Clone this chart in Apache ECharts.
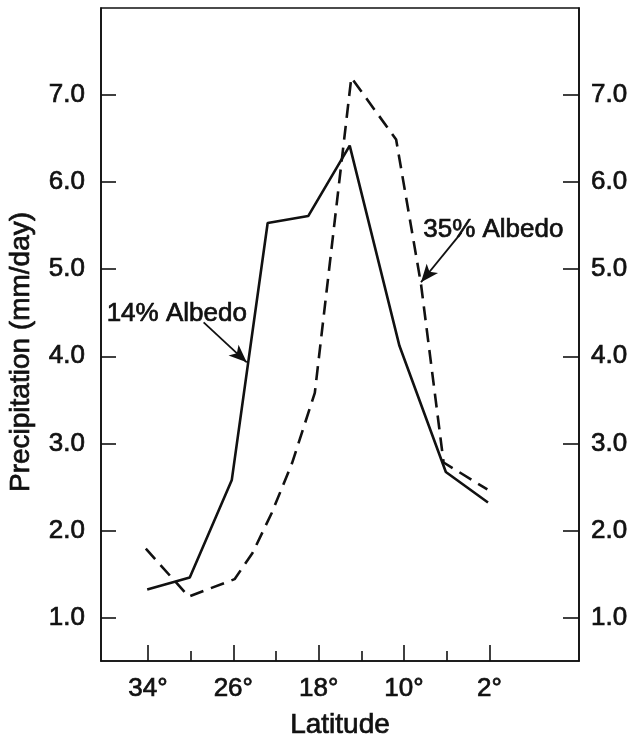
<!DOCTYPE html>
<html><head><meta charset="utf-8">
<script src="https://cdn.jsdelivr.net/npm/echarts@6/dist/echarts.min.js"></script>
<style>html,body{margin:0;padding:0;background:#fff}#c{width:634px;height:737px}</style>
</head><body><div id="c"></div>
<script>
// ---- data ----
const latitudes14 = [34.07, 30.08, 26.14, 22.78, 18.98, 15.09, 10.43, 6.08, 2.13];
const precip14    = [1.32, 1.46, 2.58, 5.53, 5.61, 6.42, 4.12, 2.67, 2.32];
const latitudes35 = [34.2, 30.18, 25.88, 24.2, 22.4, 20.5, 18.36, 14.94, 10.74, 8.41, 6.29, 2.19];
const precip35    = [1.79, 1.24, 1.44, 1.74, 2.20, 2.77, 3.58, 7.20, 6.49, 4.83, 2.78, 2.47];
const majorLatTicks = [34, 26, 18, 10, 2];
const minorLatTicks = [30, 22, 14, 6];
const precipTicks = [1, 2, 3, 4, 5, 6, 7];
const seriesNames = ['14% Albedo', '35% Albedo'];
const xTitle = 'Latitude';
const yTitle = 'Precipitation (mm/day)';
// annotation anchors in data space [latitude, precipitation]
const label14At = [31.3, 4.49];
const arrow14 = [[28.78, 4.39], [24.74, 3.93]];
const label35At = [1.63, 5.45];
const arrow35 = [[4.62, 5.42], [8.41, 4.85]];

const FONT = 'Liberation Sans, Arial, Helvetica, sans-serif';
const INK = '#111';
const BOLDEN = {textBorderColor: INK, textBorderWidth: 0.7};
const xMin = -6.4, xMax = 38.4, yMin = 0.5, yMax = 8.0;
const gridBox = {left: 101, right: 55, top: 8, bottom: 76, containLabel: false, outerBoundsMode: 'none'};

function pairs(xs, ys) { return xs.map((x, i) => [x, ys[i]]); }

function annotation(textAt, arrow, text) {
  return {
    markPoint: {
      silent: true, animation: false,
      data: [{coord: textAt, symbol: 'rect', symbolSize: 1, itemStyle: {color: 'rgba(0,0,0,0)'},
        label: Object.assign({show: true, position: 'inside', formatter: text, color: INK, fontFamily: FONT, fontSize: 26}, BOLDEN)}]
    },
    markLine: {
      silent: true, animation: false,
      label: {show: false},
      lineStyle: {color: INK, width: 1.8, type: 'solid'},
      data: [[{coord: arrow[0], symbol: 'none'}, {coord: arrow[1], symbol: 'arrow', symbolSize: [11, 18]}]]
    }
  };
}

const tickLabel = Object.assign({fontFamily: FONT, fontSize: 26, color: INK}, BOLDEN);

const chart = echarts.init(document.getElementById('c'), null, {renderer: 'canvas'});
chart.setOption({
  animation: false,
  backgroundColor: '#fff',
  grid: [
    Object.assign({show: true, borderColor: INK, borderWidth: 1.6, backgroundColor: 'rgba(0,0,0,0)'}, gridBox),
    Object.assign({show: false}, gridBox)
  ],
  xAxis: [{
    type: 'value', gridIndex: 0, min: xMin, max: xMax, inverse: true, position: 'bottom',
    name: xTitle, nameLocation: 'middle', nameGap: 50,
    nameTextStyle: Object.assign({fontFamily: FONT, fontSize: 28, color: INK}, BOLDEN),
    axisLine: {show: true, onZero: false, lineStyle: {color: INK, width: 1.6}},
    axisTick: {show: true, inside: true, length: 16, lineStyle: {color: INK, width: 1.6}, customValues: majorLatTicks},
    axisLabel: Object.assign({show: true, margin: 15, customValues: majorLatTicks, formatter: v => v + '°'}, tickLabel),
    splitLine: {show: false}
  }, {
    type: 'value', gridIndex: 1, min: xMin, max: xMax, inverse: true, position: 'bottom',
    axisLine: {show: false, onZero: false},
    axisTick: {show: true, inside: true, length: 10, lineStyle: {color: INK, width: 1.6}, customValues: minorLatTicks},
    axisLabel: {show: false},
    splitLine: {show: false}
  }],
  yAxis: [{
    type: 'value', gridIndex: 0, min: yMin, max: yMax, position: 'left',
    axisLine: {show: true, onZero: false, lineStyle: {color: INK, width: 1.6}},
    axisTick: {show: true, inside: true, length: 15, lineStyle: {color: INK, width: 1.6}, customValues: precipTicks},
    axisLabel: Object.assign({show: true, margin: 16, customValues: precipTicks, formatter: v => v.toFixed(1)}, tickLabel),
    splitLine: {show: false}
  }, {
    type: 'value', gridIndex: 0, min: yMin, max: yMax, position: 'right',
    axisLine: {show: true, onZero: false, lineStyle: {color: INK, width: 1.6}},
    axisTick: {show: true, inside: true, length: 16, lineStyle: {color: INK, width: 1.6}, customValues: precipTicks},
    axisLabel: Object.assign({show: true, margin: 12, customValues: precipTicks, formatter: v => v.toFixed(1)}, tickLabel),
    splitLine: {show: false}
  }, {
    type: 'value', gridIndex: 1, min: yMin, max: yMax, show: false, axisLine: {onZero: false}
  }],
  graphic: [{
    type: 'text', z: 10,
    x: 21, y: 352, rotation: Math.PI / 2,
    style: {text: yTitle, x: 0, y: 0, textAlign: 'center', textVerticalAlign: 'middle',
      fontFamily: FONT, fontSize: 28, fill: INK, stroke: INK, lineWidth: 0.7}
  }],
  series: [
    Object.assign({
      name: seriesNames[0], type: 'line', xAxisIndex: 0, yAxisIndex: 0,
      data: pairs(latitudes14, precip14), symbol: 'none', smooth: false,
      lineStyle: {color: INK, width: 2.6, type: 'solid'}
    }, annotation(label14At, arrow14, seriesNames[0])),
    Object.assign({
      name: seriesNames[1], type: 'line', xAxisIndex: 0, yAxisIndex: 0,
      data: pairs(latitudes35, precip35), symbol: 'none', smooth: false,
      lineStyle: {color: INK, width: 2.6, type: [14, 8]}
    }, annotation(label35At, arrow35, seriesNames[1]))
  ]
});
</script>
</body></html>
